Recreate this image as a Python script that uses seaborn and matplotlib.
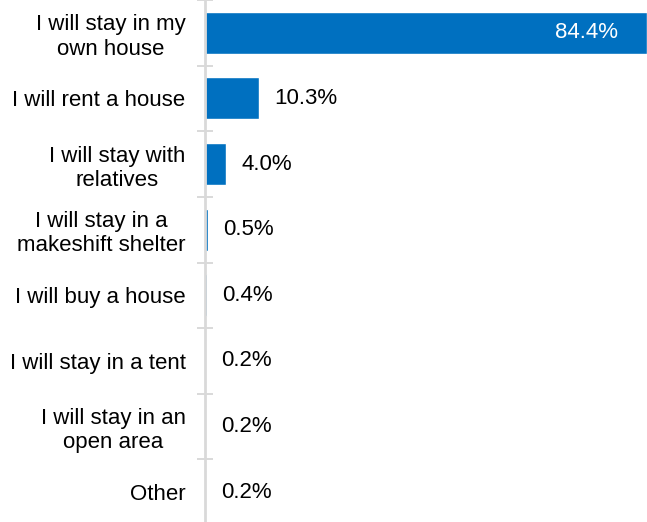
import matplotlib
matplotlib.use("Agg")
import matplotlib.pyplot as plt
from matplotlib.ticker import FixedLocator
import seaborn as sns
import pandas as pd

# Where respondents plan to live
categories = [
    "I will stay in my\nown house",
    "I will rent a house",
    "I will stay with\nrelatives",
    "I will stay in a\nmakeshift shelter",
    "I will buy a house",
    "I will stay in a tent",
    "I will stay in an\nopen area",
    "Other",
]
shares = [84.4, 10.3, 4.0, 0.5, 0.4, 0.2, 0.2, 0.2]
value_labels = ["84.4%", "10.3%", "4.0%", "0.5%", "0.4%", "0.2%", "0.2%", "0.2%"]

df = pd.DataFrame({"category": categories, "share": shares})

sns.set_theme(style="white")
plt.rcParams["font.family"] = ["Liberation Sans", "DejaVu Sans"]

BAR = "#0070C0"
AXIS = "#D9D9D9"
FS = 16

fig = plt.figure(figsize=(6.47, 5.22), dpi=100)
ax = fig.add_axes([205 / 647, -3 / 522, 442 / 647, 525 / 522])

sns.barplot(data=df, y="category", x="share", orient="h", color=BAR,
            width=0.64, saturation=1, ax=ax)

ax.set_xlim(0, 84.4)
ax.set_ylim(len(categories) - 0.5, -0.5)
ax.set_xlabel("")
ax.set_ylabel("")
ax.set_xticks([])

for side in ("top", "right", "bottom"):
    ax.spines[side].set_visible(False)
ax.spines["left"].set_color(AXIS)
ax.spines["left"].set_linewidth(2.0)
ax.spines["left"].set_zorder(5)

ax.tick_params(axis="y", which="major", left=False, length=0, pad=14,
               labelsize=FS, labelcolor="black")
for lbl in ax.get_yticklabels():
    lbl.set_multialignment("center")
ax.yaxis.set_minor_locator(FixedLocator([i + 0.5 for i in range(-1, len(categories))]))
ax.tick_params(axis="y", which="minor", left=True, direction="inout", length=11,
               width=1.4, color=AXIS)

for i, (v, txt) in enumerate(zip(shares, value_labels)):
    if v > 50:
        ax.annotate(txt, (v, i), xytext=(-21, 0), textcoords="offset points",
                    ha="right", va="center", color="white", fontsize=FS)
    else:
        ax.annotate(txt, (v, i), xytext=(11, 0), textcoords="offset points",
                    ha="left", va="center", color="black", fontsize=FS)

fig.savefig("out.png", dpi=100)
